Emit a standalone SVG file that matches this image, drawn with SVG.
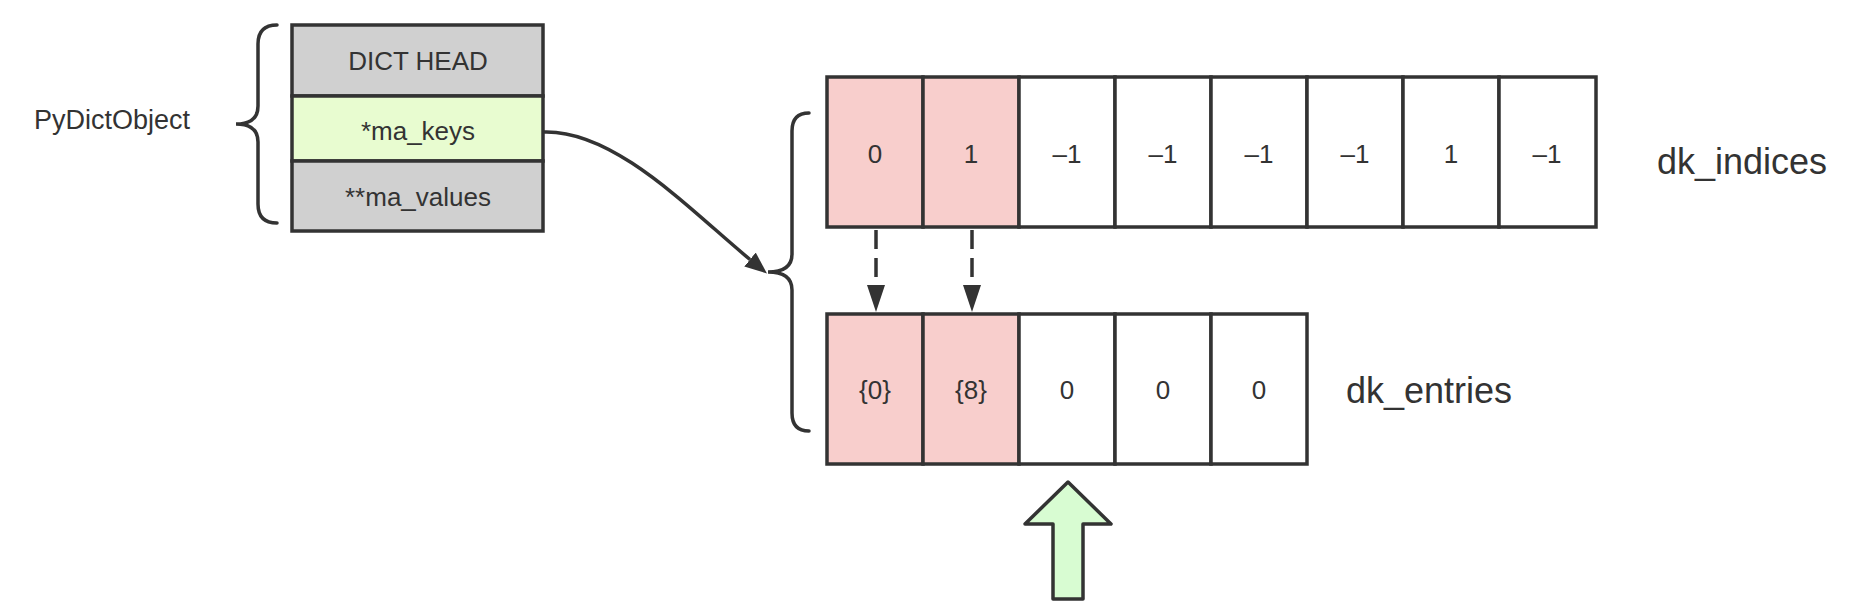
<svg xmlns="http://www.w3.org/2000/svg" width="1872" height="614" viewBox="0 0 1872 614">
<style>
text{font-family:"Liberation Sans",Arial,sans-serif;fill:#333;text-anchor:middle;dominant-baseline:central}
.box{stroke:#333;stroke-width:3.5}
.gray{fill:#d0d0d0}
.green{fill:#e8fcd0}
.pink{fill:#f8cecc}
.white{fill:#fff}
.brace{fill:none;stroke:#333;stroke-width:3.5;stroke-linecap:round}
.conn{fill:none;stroke:#333;stroke-width:3.5}
.f26{font-size:26px}
.f27{font-size:27px}
.fc{font-size:26px}
.f36{font-size:36px}
</style>
<defs>
<marker id="ah" viewBox="0 0 22 18" refX="0" refY="9" markerWidth="22" markerHeight="18" markerUnits="userSpaceOnUse" orient="auto">
<path d="M0 0 L22 9 L0 18 z" fill="#333"/>
</marker>
<marker id="ahd" viewBox="0 0 27 18" refX="0" refY="9" markerWidth="27" markerHeight="18" markerUnits="userSpaceOnUse" orient="auto">
<path d="M0 0 L27 9 L0 18 z" fill="#333"/>
</marker>
</defs>
<rect width="1872" height="614" fill="#fff"/>

<g id="pydictobject-label">
<text class="f27" x="112" y="120">PyDictObject</text>
<path class="brace" d="M277 25 Q258 25 258 44 L258 106 Q258 124 236 124 Q258 124 258 142 L258 204 Q258 223 277 223"/>
</g>

<g id="pydictobject">
<rect class="box gray" x="292" y="25" width="251" height="71"/>
<text class="f26" x="418" y="61">DICT HEAD</text>
<rect class="box green" x="292" y="96" width="251" height="65"/>
<text class="f26" x="418" y="131">*ma_keys</text>
<rect class="box gray" x="292" y="161" width="251" height="70"/>
<text class="f26" x="418" y="197">**ma_values</text>
</g>

<g id="keys-brace">
<path class="brace" d="M809 113 Q792 113 792 131 L792 254 Q792 272 768 272 Q792 272 792 290 L792 413 Q792 431 809 431"/>
</g>

<g id="dk_indices">
<rect class="box pink" x="827" y="77" width="96" height="150"/>
<rect class="box pink" x="923" y="77" width="96" height="150"/>
<rect class="box white" x="1019" y="77" width="96" height="150"/>
<rect class="box white" x="1115" y="77" width="96" height="150"/>
<rect class="box white" x="1211" y="77" width="96" height="150"/>
<rect class="box white" x="1307" y="77" width="96" height="150"/>
<rect class="box white" x="1403" y="77" width="96" height="150"/>
<rect class="box white" x="1499" y="77" width="97" height="150"/>
<text class="fc" x="875" y="154">0</text>
<text class="fc" x="971" y="154">1</text>
<text class="fc" x="1067" y="154">–1</text>
<text class="fc" x="1163" y="154">–1</text>
<text class="fc" x="1259" y="154">–1</text>
<text class="fc" x="1355" y="154">–1</text>
<text class="fc" x="1451" y="154">1</text>
<text class="fc" x="1547" y="154">–1</text>
<text class="f36" x="1742" y="161">dk_indices</text>
</g>

<g id="dk_entries">
<rect class="box pink" x="827" y="314" width="96" height="150"/>
<rect class="box pink" x="923" y="314" width="96" height="150"/>
<rect class="box white" x="1019" y="314" width="96" height="150"/>
<rect class="box white" x="1115" y="314" width="96" height="150"/>
<rect class="box white" x="1211" y="314" width="96" height="150"/>
<text class="fc" x="875" y="390">{0}</text>
<text class="fc" x="971" y="390">{8}</text>
<text class="fc" x="1067" y="390">0</text>
<text class="fc" x="1163" y="390">0</text>
<text class="fc" x="1259" y="390">0</text>
<text class="f36" x="1429" y="390">dk_entries</text>
</g>

<g id="pointer-arrow">
<path d="M1068 482 L1111 524 L1083 524 L1083 599 L1053 599 L1053 524 L1025 524 Z" fill="#d8fcd2" stroke="#333" stroke-width="3.5" stroke-linejoin="round"/>
</g>

<g id="connectors">
<path class="conn" d="M544 132 C615 130 690 210 750 259.5" marker-end="url(#ah)"/>
<path class="conn" d="M876 230 L876 285" stroke-dasharray="19 9" marker-end="url(#ahd)"/>
<path class="conn" d="M972 230 L972 285" stroke-dasharray="19 9" marker-end="url(#ahd)"/>
</g>
</svg>
